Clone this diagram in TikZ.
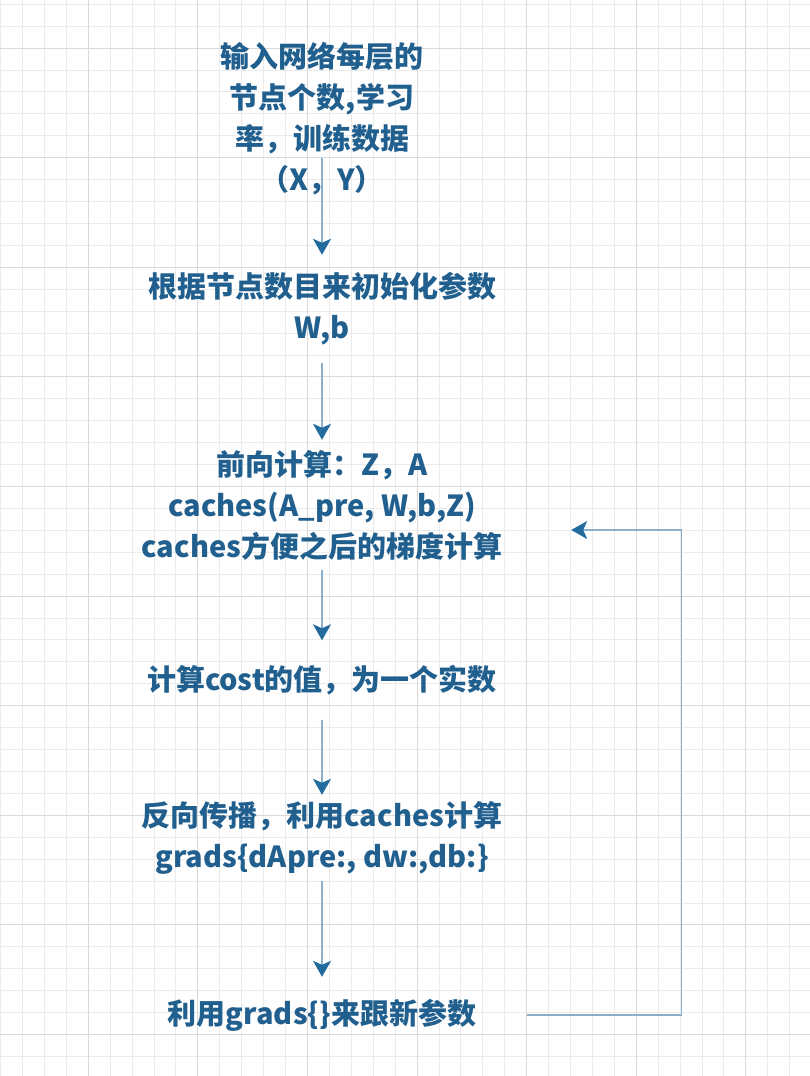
\documentclass[tikz,border=0pt]{standalone}
\usepackage{fontspec}
\setmainfont{Noto Sans CJK SC}
\usetikzlibrary{arrows.meta}
\definecolor{txt}{HTML}{205F8E}
\definecolor{arrline}{HTML}{8AAFCC}
\definecolor{arrhead}{HTML}{236A9F}
\definecolor{gminor}{HTML}{EBEBEB}
\definecolor{gmajor}{HTML}{D9D9D9}
\begin{document}
\begin{tikzpicture}[x=1pt,y=-1pt,
  box/.style={rectangle, inner sep=0pt, minimum width=410pt, text=txt, align=center, font=\fontsize{29}{41}\selectfont\bfseries},
  arr/.style={draw=arrline, line width=1.3pt, -{Stealth[length=16pt,width=18pt,inset=4pt,color=arrhead]}},
  minorline/.style={draw=gminor, line width=1pt},
  majorline/.style={draw=gmajor, line width=1pt}]
\fill[white] (0,0) rectangle (810,1076);
\useasboundingbox (0,0) rectangle (810,1076);
\foreach \i in {0,...,36} \draw[minorline] ({0.6+21.92*\i},0) -- ({0.6+21.92*\i},1076);
\foreach \j in {0,...,48} \draw[minorline] (0,{4.3+21.92*\j}) -- (810,{4.3+21.92*\j});
\foreach \i in {0,...,6} \draw[majorline] ({88.3+109.6*\i},0) -- ({88.3+109.6*\i},1076);
\foreach \j in {0,...,9} \draw[majorline] (0,{48.1+109.6*\j}) -- (810,{48.1+109.6*\j});

\node[box] (n1) at (322,118.5) {输入网络每层的\\节点个数,学习\\率，训练数据\\（X，Y）};
\node[box, minimum height=108pt] (n2) at (322,309) {根据节点数目来初始化参数\\W,b};
\node[box, minimum width=498pt, minimum height=130pt] (n3) at (322,505) {前向计算：Z，A\\caches(A\_pre, W,b,Z)\\caches方便之后的梯度计算};
\node[box, minimum height=79pt] (n4) at (322,680) {计算cost的值，为一个实数};
\node[box, minimum height=86pt] (n5) at (322,838) {反向传播，利用caches计算\\grads\{dApre:, dw:,db:\}};
\node[box, minimum height=76pt] (n6) at (322,1015) {利用grads\{\}来跟新参数};

\draw[arr] ([yshift=-39.5pt]n1.center) -- (n2.north);
\draw[arr] (n2.south) -- (n3.north);
\draw[arr] (n3.south) -- (n4.north);
\draw[arr] (n4.south) -- (n5.north);
\draw[arr] (n5.south) -- (n6.north);
\draw[arr] (n6.east) -- ++(154,0) |- ([yshift=-25pt]n3.east);
\end{tikzpicture}
\end{document}
